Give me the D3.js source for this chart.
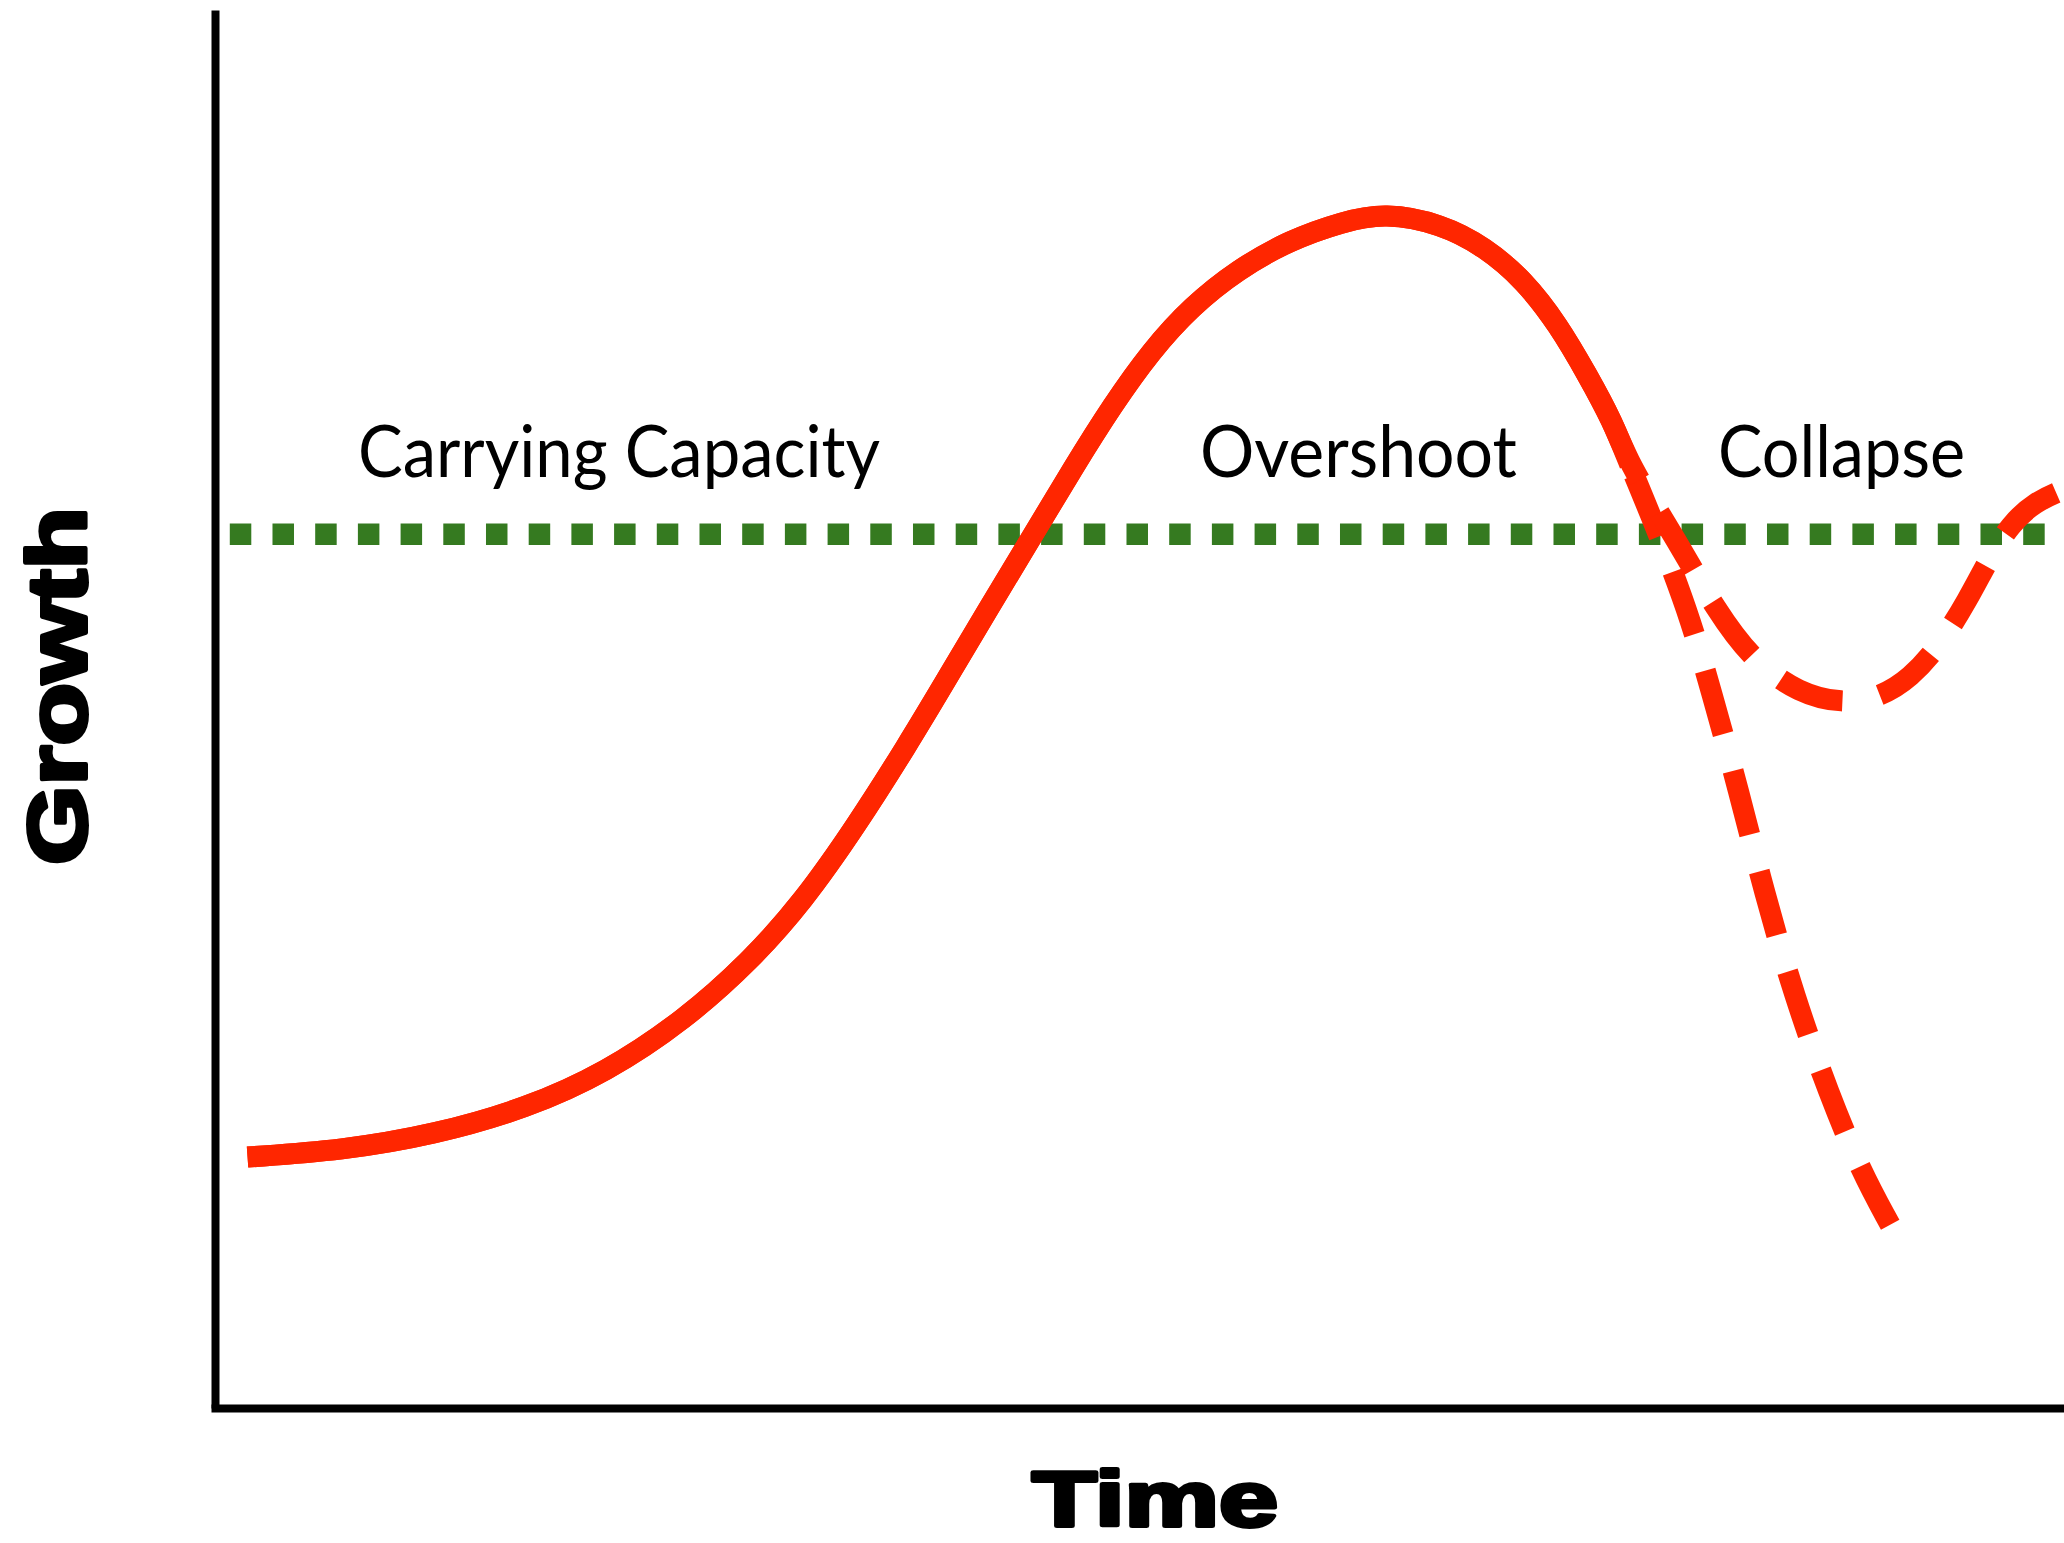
<!DOCTYPE html>
<html>
<head>
<script src="https://d3js.org/d3.v7.min.js"></script>
<style>
  body { margin: 0; background: #fff; }
  svg { display: block; background: #fff; }
  .phase { font-family: Lato, "Open Sans", sans-serif; font-size: 71px; fill: #000; }
  .axis-title { font-family: "Liberation Sans", Arial, sans-serif; font-weight: bold; font-size: 84px;
                fill: #000; stroke: #000; stroke-width: 4px; stroke-linejoin: round; }
</style>
</head>
<body>
<svg width="2064" height="1543"></svg>
<script>
// time runs 0..100 across the plot, growth 0..100 up the plot
let timeDomain = [0, 100];
let growthDomain = [0, 100];

let carryingCapacity = 62.5;
let capacityStart = 0.8;

// shared rise, up to where the two futures split
let riseTime   = [1.76, 6.88, 11.87, 16.85, 21.12, 25.39, 28.95, 31.8, 34.65, 37.49, 39.49, 41.76, 44.26,
                  46.39, 48.53, 50.66, 52.8, 55.29, 58.14, 60.98, 63.26, 66.32, 68.68, 70.81, 72.66, 74.23, 75.58, 76.51];
let riseGrowth = [17.95, 18.43, 19.56, 21.44, 23.98, 27.75, 31.98, 36.22, 41.59, 47.52, 51.95, 57.03, 62.49,
                  67.2, 71.72, 75.67, 78.78, 81.42, 83.55, 84.85, 85.5, 84.7, 83.05, 80.66, 77.46, 73.88, 70.59, 67.47];

// branch 1: collapse
let collapseTime   = [77.7, 78.6, 79.8, 80.9, 82.4, 83.8, 85.4, 87.3, 89.0, 90.6];
let collapseGrowth = [63.7, 60.7, 56.4, 51.4, 44.2, 36.8, 29.5, 22.4, 17.0, 13.1];

// branch 2: dip and settle back toward capacity
let recoverTime   = [78.2, 79.9, 81.0, 83.1, 85.7, 88.0, 90.0, 91.7, 93.3, 94.8, 96.0, 97.1, 98.4, 100];
let recoverGrowth = [63.9, 60.1, 57.5, 53.5, 51.1, 50.4, 50.8, 52.2, 54.6, 57.8, 60.9, 63.2, 64.8, 65.7];

let phaseLabels = ["Carrying Capacity", "Overshoot", "Collapse"];
let phaseTime   = [21.85, 61.84, 87.97];
let phaseGrowth = 66.6;

const width = 2064, height = 1543;
const svg = d3.select("svg");

const x = d3.scaleLinear().domain(timeDomain).range([215, 2064]);
const y = d3.scaleLinear().domain(growthDomain).range([1408, 10]);

const red = "#ff2600", green = "#357a20";
const dash = 66, gap = 38;

// axes: plain thick lines, no ticks
svg.append("g")
    .attr("transform", "translate(0,1408)")
    .call(d3.axisBottom(x).tickValues([]).tickSizeOuter(0))
    .call(g => g.select(".domain").attr("stroke", "#000").attr("stroke-width", 8).attr("stroke-linecap", "square"));

svg.append("g")
    .attr("transform", "translate(215,0)")
    .call(d3.axisLeft(y).tickValues([]).tickSizeOuter(0))
    .call(g => g.select(".domain").attr("stroke", "#000").attr("stroke-width", 8));

// carrying capacity, square dots
svg.append("line")
    .attr("x1", x(capacityStart)).attr("x2", x(timeDomain[1]))
    .attr("y1", y(carryingCapacity)).attr("y2", y(carryingCapacity))
    .attr("stroke", green)
    .attr("stroke-width", 21.5)
    .attr("stroke-dasharray", "21.5 21.2");

const line = d3.line()
    .x(d => x(d.t))
    .y(d => y(d.g))
    .curve(d3.curveBasis);

const rise = riseTime.map((t, i) => ({ t, g: riseGrowth[i] }));
const collapse = rise.concat(collapseTime.map((t, i) => ({ t, g: collapseGrowth[i] })));
const recover = rise.concat(recoverTime.map((t, i) => ({ t, g: recoverGrowth[i] })));

function lengthAtX(node, px) {
    let lo = 0, hi = node.getTotalLength();
    for (let i = 0; i < 40; i++) {
        const mid = (lo + hi) / 2;
        if (node.getPointAtLength(mid).x < px) lo = mid; else hi = mid;
    }
    return lo;
}

// solid up to solidLen, then dashes lined up so one dash ends at anchor
function dashPattern(total, solidLen, anchor) {
    const period = dash + gap;
    const phase = (((solidLen - (anchor - dash)) % period) + period) % period;
    const arr = [];
    let pos;
    if (phase < dash) {
        arr.push(solidLen + dash - phase, gap);
        pos = solidLen + dash - phase + gap;
    } else {
        arr.push(solidLen, period - phase);
        pos = solidLen + period - phase;
    }
    while (pos < total + period) { arr.push(dash, gap); pos += period; }
    return arr.join(" ");
}

const splitT = riseTime[riseTime.length - 1];

function drawTrajectory(data, anchorT) {
    const p = svg.append("path")
        .datum(data)
        .attr("d", line)
        .attr("fill", "none")
        .attr("stroke", red)
        .attr("stroke-width", 21);
    const node = p.node();
    const total = node.getTotalLength();
    const solidLen = lengthAtX(node, x(splitT));
    const anchor = anchorT == null ? total : lengthAtX(node, x(anchorT));
    p.attr("stroke-dasharray", dashPattern(total, solidLen, anchor));
}

drawTrajectory(collapse, null);
drawTrajectory(recover, 88.0);

// phase labels
const labelFit = [522, 317, 247];
svg.selectAll("text.phase")
    .data(phaseLabels)
    .join("text")
    .attr("class", "phase")
    .attr("x", (d, i) => x(phaseTime[i]))
    .attr("y", y(phaseGrowth))
    .attr("text-anchor", "middle")
    .attr("textLength", (d, i) => labelFit[i])
    .attr("lengthAdjust", "spacingAndGlyphs")
    .text(d => d);

// axis titles
svg.append("text")
    .attr("class", "axis-title")
    .attr("x", 1155)
    .attr("y", 1526)
    .style("font-size", "78px")
    .attr("text-anchor", "middle")
    .attr("textLength", 246)
    .attr("lengthAdjust", "spacingAndGlyphs")
    .text("Time");

svg.append("text")
    .attr("class", "axis-title")
    .attr("transform", "translate(86,686) rotate(-90)")
    .attr("text-anchor", "middle")
    .attr("textLength", 358)
    .attr("lengthAdjust", "spacingAndGlyphs")
    .text("Growth");
</script>
</body>
</html>
